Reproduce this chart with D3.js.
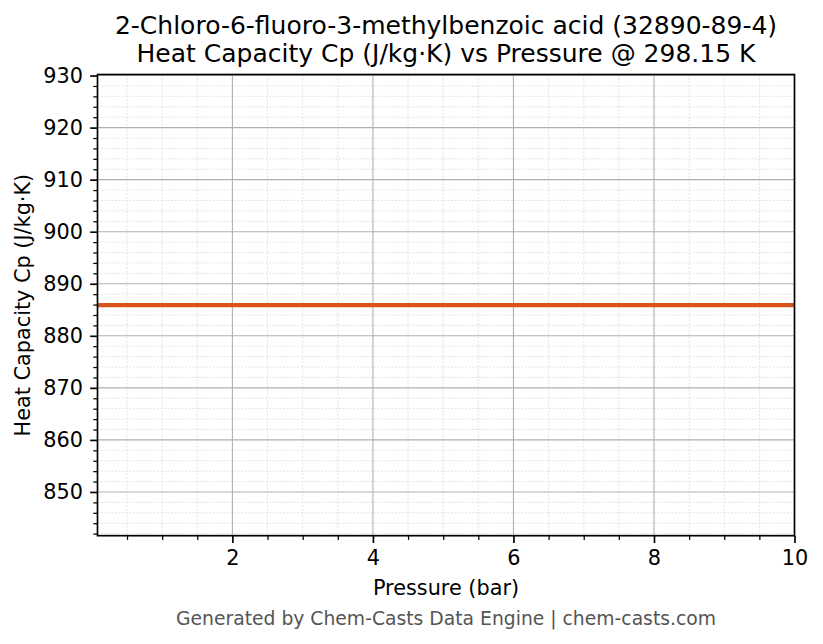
<!DOCTYPE html>
<html>
<head>
<meta charset="utf-8">
<script src="https://cdn.jsdelivr.net/npm/d3@7"></script>
<style>
  html, body { margin: 0; padding: 0; background: #fff; }
  svg { display: block; font-family: "DejaVu Sans", sans-serif; }
</style>
</head>
<body>
<svg id="chart" width="823" height="644"></svg>
<script>
// ---- data ----
const titleLines = ["2-Chloro-6-fluoro-3-methylbenzoic acid (32890-89-4)",
                    "Heat Capacity Cp (J/kg\u00B7K) vs Pressure @ 298.15 K"];
const xLabel = "Pressure (bar)";
const yLabel = "Heat Capacity Cp (J/kg\u00B7K)";
const footer = "Generated by Chem-Casts Data Engine | chem-casts.com";
const pressures = [0.08, 1, 2, 3, 4, 5, 6, 7, 8, 9, 10];
const cpValues  = [885.9, 885.9, 885.9, 885.9, 885.9, 885.9, 885.9, 885.9, 885.9, 885.9, 885.9];
const xDomain = [0.08, 10];
const yDomain = [841.6, 930.2];
const xTicks = [2, 4, 6, 8, 10];
const yTicks = [850, 860, 870, 880, 890, 900, 910, 920, 930];

// ---- layout ----
const svg = d3.select("#chart");
const L = 97.5, R = 794.5, T = 74.5, B = 535.7;
const x = d3.scaleLinear().domain(xDomain).range([L, R]);
const y = d3.scaleLinear().domain(yDomain).range([B, T]);

const xMinor = d3.range(0.5, 10.001, 0.5).filter(v => v >= xDomain[0] && !xTicks.includes(v));
const yMinor = d3.range(842, 930.01, 2).filter(v => v >= yDomain[0] && v <= yDomain[1] && !yTicks.includes(v));

// minor grid
const g = svg.append("g");
g.selectAll(".mgx").data(xMinor).enter().append("line")
  .attr("x1", d => x(d)).attr("x2", d => x(d)).attr("y1", T).attr("y2", B)
  .attr("stroke", "#dcdcdc").attr("stroke-width", 0.8).attr("stroke-dasharray", "2,1.5");
g.selectAll(".mgy").data(yMinor).enter().append("line")
  .attr("y1", d => y(d)).attr("y2", d => y(d)).attr("x1", L).attr("x2", R)
  .attr("stroke", "#dcdcdc").attr("stroke-width", 0.8).attr("stroke-dasharray", "2,1.5");
// major grid
g.selectAll(".gx").data(xTicks).enter().append("line")
  .attr("x1", d => x(d)).attr("x2", d => x(d)).attr("y1", T).attr("y2", B)
  .attr("stroke", "#b0b0b0").attr("stroke-width", 1.1);
g.selectAll(".gy").data(yTicks).enter().append("line")
  .attr("y1", d => y(d)).attr("y2", d => y(d)).attr("x1", L).attr("x2", R)
  .attr("stroke", "#b0b0b0").attr("stroke-width", 1.1);

// data line
const line = d3.line().x((d, i) => x(pressures[i])).y(d => y(d));
svg.append("path").datum(cpValues).attr("d", line)
  .attr("fill", "none").attr("stroke", "#d9541a").attr("stroke-width", 4.2);

// axes
const fs = 20.8;
const xAxis = d3.axisBottom(x).tickValues(xTicks).tickFormat(d3.format("d")).tickSize(7.3).tickPadding(7.3);
const xAxisMinor = d3.axisBottom(x).tickValues(xMinor).tickFormat("").tickSize(4.2);
const yAxis = d3.axisLeft(y).tickValues(yTicks).tickFormat(d3.format("d")).tickSize(7.3).tickPadding(7.3);
const yAxisMinor = d3.axisLeft(y).tickValues(yMinor).tickFormat("").tickSize(4.2);

function style(sel, w) {
  sel.select(".domain").remove();
  sel.selectAll("line").attr("stroke", "#000").attr("stroke-width", w);
  sel.selectAll("text").attr("fill", "#000").style("font-size", fs + "px").style("font-family", "DejaVu Sans");
}
svg.append("g").attr("transform", `translate(0,${B})`).call(xAxisMinor).call(s => style(s, 1.25));
svg.append("g").attr("transform", `translate(0,${B})`).call(xAxis).call(s => style(s, 1.67));
svg.append("g").attr("transform", `translate(${L},0)`).call(yAxisMinor).call(s => style(s, 1.25));
svg.append("g").attr("transform", `translate(${L},0)`).call(yAxis).call(s => style(s, 1.67));

// frame
svg.append("rect").attr("x", L).attr("y", T).attr("width", R - L).attr("height", B - T)
  .attr("fill", "none").attr("stroke", "#000").attr("stroke-width", 1.67);

// texts
svg.append("text").attr("x", (L + R) / 2).attr("y", 34).attr("text-anchor", "middle")
  .style("font-size", "25px").text(titleLines[0]);
svg.append("text").attr("x", (L + R) / 2).attr("y", 62).attr("text-anchor", "middle")
  .style("font-size", "25px").text(titleLines[1]);
svg.append("text").attr("x", (L + R) / 2).attr("y", 595).attr("text-anchor", "middle")
  .style("font-size", fs + "px").text(xLabel);
svg.append("text").attr("transform", `translate(30,${(T + B) / 2}) rotate(-90)`).attr("text-anchor", "middle")
  .style("font-size", fs + "px").text(yLabel);
svg.append("text").attr("x", 446).attr("y", 625).attr("text-anchor", "middle")
  .style("font-size", "18.75px").attr("fill", "#555").text(footer);
</script>
</body>
</html>
